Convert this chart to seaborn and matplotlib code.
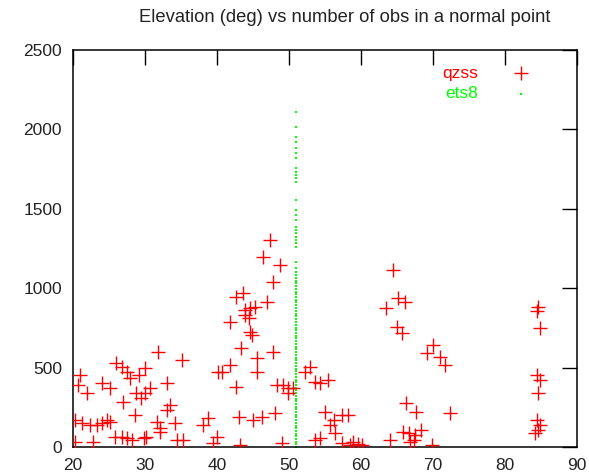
import matplotlib
matplotlib.use('Agg')
import matplotlib.pyplot as plt
import seaborn as sns

# qzss normal points: elevation (deg) and number of obs
qzss_elev = [20.3, 20.3, 20.7, 21.0, 21.2, 21.9, 22.4, 22.8, 23.3, 24.0, 24.0, 24.7, 25.1, 25.1,
             25.8, 26.0, 26.8, 26.8, 27.0, 27.5, 27.5, 27.9, 28.2, 28.6, 28.8, 29.1, 29.5, 29.8,
             30.0, 30.0, 30.2, 30.7, 31.6, 31.8, 32.1, 32.1, 33.0, 33.0, 33.5, 34.2, 34.4, 35.1,
             35.3,
             38.1, 38.8, 39.5, 40.0, 40.2, 40.7, 41.8, 41.8, 42.7, 42.7, 43.0, 43.2, 43.4, 43.6,
             43.9, 43.9, 44.4, 44.6, 44.6, 44.8, 45.0, 45.3, 45.5, 45.5, 46.2, 46.4, 46.9, 47.4,
             47.8, 47.8, 48.1, 48.3, 48.8, 49.0, 49.2, 49.9, 49.9, 50.6,
             52.2, 52.9, 53.6, 53.6, 54.3, 54.3, 55.0, 55.4, 55.7, 56.2, 56.4, 57.3, 57.3, 58.2,
             58.5, 58.9, 59.6, 60.1, 63.5, 64.0, 64.4, 65.0, 65.2, 65.7, 66.1, 65.9, 66.3, 66.6,
             66.8, 67.3, 67.5, 67.7, 68.4, 69.1, 69.8, 70.0, 71.0, 71.7, 72.4,
             84.6, 84.5, 84.9, 84.4, 84.9, 84.6, 84.4, 84.9, 84.2, 84.6]
qzss_nobs = [30, 170, 390, 453, 149, 342, 139, 33, 139, 401, 149, 170, 160, 370,
             65, 527, 506, 65, 285, 474, 55, 432, 44, 202, 338, 453, 307, 55,
             495, 338, 65, 370, 160, 600, 118, 96, 401, 233, 264, 149, 44, 548,
             44,
             139, 180, 23, 65, 474, 474, 516, 789, 380, 946, 191, 13, 621, 968,
             863, 831, 810, 873, 726, 705, 170, 884, 559, 474, 191, 1198, 915, 1304,
             1041, 600, 212, 390, 1146, 23, 390, 370, 338, 370,
             474, 506, 411, 44, 401, 55, 222, 422, 139, 170, 86, 202, 23, 202,
             15, 30, 20, 10, 873, 44, 1115, 758, 936, 716, 915, 96, 275, 86,
             33, 44, 76, 222, 107, 590, 13, 642, 569, 516, 216,
             884, 858, 747, 453, 422, 342, 170, 139, 86, 107]

# ets8 normal points, all at one elevation
ets8_elev = 51.0
ets8_nobs = [2111, 2017, 1954, 1919, 1885, 1853, 1818, 1755, 1734, 1713, 1692, 1671, 1555, 1492,
             1461, 1430, 1387, 1366, 1345, 1324, 1303, 1282, 1261, 1167, 1125, 1104, 1083, 1062,
             1048, 1030, 1012, 996, 978, 961, 943, 925, 910, 892, 874, 857, 840, 822, 806, 788,
             771, 752, 736, 718, 700, 684, 666, 650, 631, 614, 597, 580, 562, 545, 528, 511,
             494, 476, 460, 442, 425, 408, 391, 374, 357, 340, 322, 305, 288, 271, 254, 237,
             220, 203, 186, 169, 152, 135, 118, 101, 84, 67, 50, 33, 16, 2]

sns.set_style('white')
plt.rcParams['font.family'] = ['Liberation Sans', 'DejaVu Sans']

fig = plt.figure(figsize=(5.89, 4.73), dpi=100)
ax = fig.add_axes([73 / 589, 1 - 447 / 473, 504 / 589, 397 / 473])

sns.scatterplot(x=qzss_elev, y=qzss_nobs, marker='+', color='#ff0000', s=95,
                linewidth=1.0, label='qzss', ax=ax, zorder=3)
sns.scatterplot(x=[ets8_elev] * len(ets8_nobs), y=ets8_nobs, marker='s', color='#00ff00',
                s=2.8, linewidth=0, label='ets8', ax=ax, zorder=2)

ax.set_xlim(20, 90)
ax.set_ylim(0, 2500)
ax.set_xticks(range(20, 91, 10))
ax.set_yticks(range(0, 2501, 500))
ax.tick_params(direction='in', length=11, width=1.0, top=True, right=True,
               labelsize=12.5, pad=8, colors='black', labelcolor='#222222')
for sp in ax.spines.values():
    sp.set_color('black')
    sp.set_linewidth(1.1)
ax.set_xlabel('')
ax.set_ylabel('')

ax.legend(loc='upper right', bbox_to_anchor=(0.955, 1.0), frameon=False, markerfirst=False,
          labelcolor=['#ff0000', '#00ff00'], fontsize=12.5, handletextpad=1.5,
          labelspacing=0.32, markerscale=1.0)

fig.text(345 / 589, 1 - 18 / 473, 'Elevation (deg) vs number of obs in a normal point',
         ha='center', va='center', fontsize=13.2, color='#222222')

plt.savefig('out.png', dpi=100)
plt.close()
